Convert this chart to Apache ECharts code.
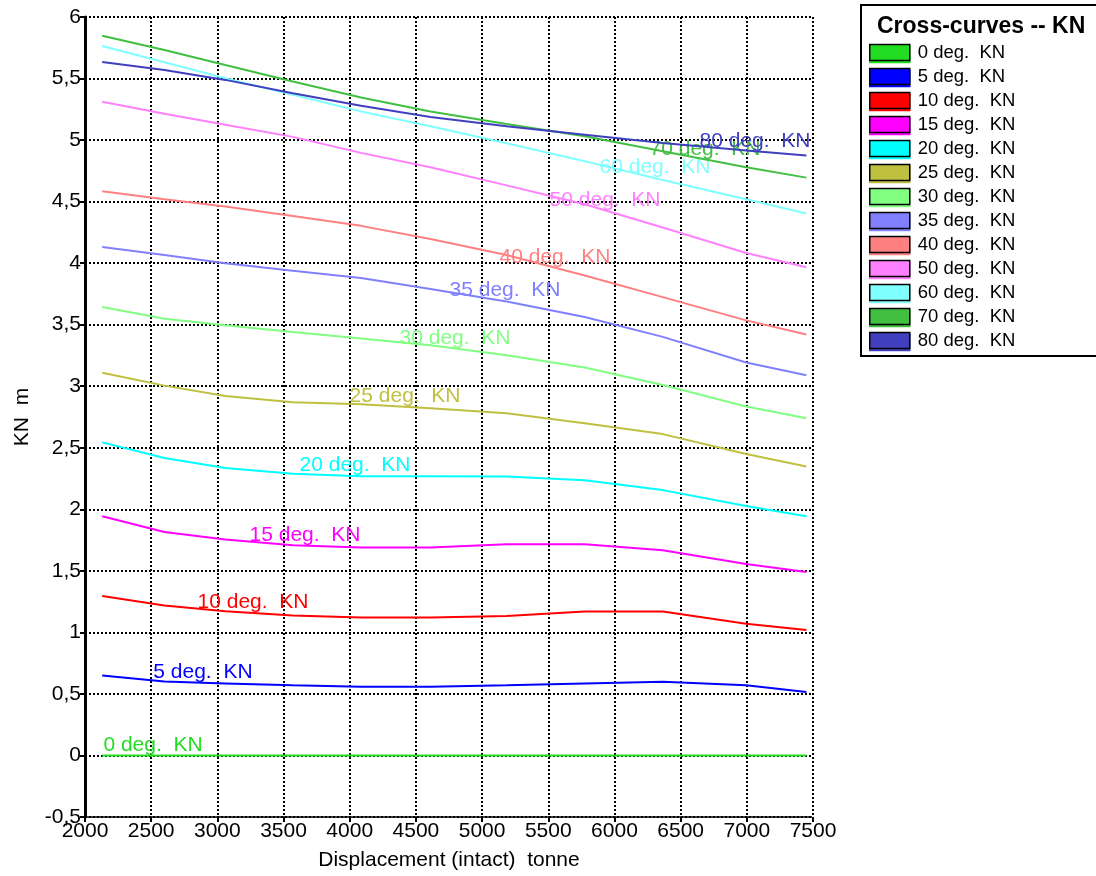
<!DOCTYPE html>
<html>
<head>
<meta charset="utf-8">
<script src="https://cdn.jsdelivr.net/npm/echarts@6/dist/echarts.min.js"></script>
<style>
html,body{margin:0;padding:0;background:#fff;}
#chart{width:1096px;height:876px;}
</style>
</head>
<body>
<div id="chart"></div>
<script>
// ---- data ----
const displacement = [2130, 2600, 3060, 3570, 4085, 4610, 5185, 5775, 6365, 6995, 7450];
const seriesNames = ['0 deg.  KN','5 deg.  KN','10 deg.  KN','15 deg.  KN','20 deg.  KN','25 deg.  KN','30 deg.  KN','35 deg.  KN','40 deg.  KN','50 deg.  KN','60 deg.  KN','70 deg.  KN','80 deg.  KN'];
const kn0  = [0, 0, 0, 0, 0, 0, 0, 0, 0, 0, 0];
const kn5  = [0.65, 0.60, 0.585, 0.57, 0.558, 0.558, 0.57, 0.585, 0.598, 0.57, 0.515];
const kn10 = [1.296, 1.218, 1.172, 1.137, 1.121, 1.121, 1.134, 1.17, 1.17, 1.07, 1.02];
const kn15 = [1.943, 1.816, 1.754, 1.708, 1.69, 1.69, 1.716, 1.716, 1.668, 1.555, 1.49];
const kn20 = [2.544, 2.417, 2.336, 2.288, 2.269, 2.269, 2.266, 2.237, 2.156, 2.027, 1.943];
const kn25 = [3.11, 3.005, 2.921, 2.87, 2.854, 2.821, 2.781, 2.70, 2.611, 2.449, 2.347];
const kn30 = [3.643, 3.549, 3.495, 3.441, 3.387, 3.333, 3.252, 3.153, 3.01, 2.835, 2.74];
const kn35 = [4.131, 4.066, 4.0, 3.939, 3.88, 3.79, 3.689, 3.563, 3.401, 3.193, 3.09];
const kn40 = [4.584, 4.519, 4.46, 4.384, 4.303, 4.196, 4.066, 3.899, 3.724, 3.535, 3.42];
const kn50 = [5.311, 5.214, 5.125, 5.026, 4.896, 4.78, 4.632, 4.479, 4.29, 4.083, 3.967];
const kn60 = [5.764, 5.632, 5.503, 5.368, 5.233, 5.112, 4.975, 4.828, 4.675, 4.52, 4.403];
const kn70 = [5.847, 5.732, 5.61, 5.476, 5.346, 5.233, 5.131, 5.031, 4.91, 4.78, 4.695];
const kn80 = [5.635, 5.57, 5.489, 5.381, 5.279, 5.188, 5.112, 5.044, 4.977, 4.915, 4.875];
// displacement at which each curve's label is centred
const labelX = [2514, 2891, 3269, 3662, 4040, 4418, 4795, 5173, 5551, 5929, 6306, 6684, 7062];
const xTicks = {min: 2000, max: 7500, interval: 500};
const yTicks = {min: -0.5, max: 6, interval: 0.5};

const allValues = [kn0, kn5, kn10, kn15, kn20, kn25, kn30, kn35, kn40, kn50, kn60, kn70, kn80];
const colors = ['#22DD22','#0000FF','#FF0000','#FF00FF','#00FFFF','#BFBF40','#80FF80','#8080FF','#FF8080','#FF80FF','#80FFFF','#40BF40','#4040BF'];

function valueAt(vals, x) {
  for (let i = 0; i < displacement.length - 1; i++) {
    if (x >= displacement[i] && x <= displacement[i+1]) {
      const t = (x - displacement[i]) / (displacement[i+1] - displacement[i]);
      return vals[i] + t * (vals[i+1] - vals[i]);
    }
  }
  return vals[0];
}

const FONT = 'Arial, "Liberation Sans", sans-serif';

const series = allValues.map((vals, i) => ({
  name: seriesNames[i],
  type: 'line',
  data: displacement.map((d, k) => [d, vals[k]]),
  showSymbol: false,
  symbol: 'none',
  color: colors[i],
  lineStyle: {width: 2, color: colors[i]},
  silent: true,
  z: 3 + i,
  markPoint: {
    symbol: 'circle',
    symbolSize: 0,
    silent: true,
    animation: false,
    data: [{coord: [labelX[i], valueAt(vals, labelX[i])], value: seriesNames[i]}],
    label: {
      show: true,
      formatter: seriesNames[i],
      position: [0, 0],
      align: 'center',
      verticalAlign: 'bottom',
      color: colors[i],
      fontFamily: FONT,
      fontSize: 21
    }
  }
}));

const chart = echarts.init(document.getElementById('chart'), null, {renderer: 'canvas'});
chart.setOption({
  animation: false,
  backgroundColor: '#fff',
  textStyle: {fontFamily: FONT},
  grid: {left: 85, right: 283, top: 17, bottom: 56, containLabel: false},
  xAxis: {
    type: 'value',
    min: xTicks.min, max: xTicks.max, interval: xTicks.interval,
    name: 'Displacement (intact)  tonne',
    nameLocation: 'middle',
    nameGap: 33,
    nameTextStyle: {color: '#000', fontSize: 21, fontFamily: FONT},
    axisLine: {show: true, onZero: false, lineStyle: {color: '#000', width: 2, type: [2, 2]}},
    axisTick: {show: true, length: 5, lineStyle: {color: '#000', width: 2}},
    axisLabel: {color: '#000', fontSize: 21, fontFamily: FONT, margin: 4,
      formatter: v => String(v)},
    splitLine: {show: true, lineStyle: {color: '#000', width: 2, type: [2, 2]}}
  },
  yAxis: {
    type: 'value',
    min: yTicks.min, max: yTicks.max, interval: yTicks.interval,
    name: 'KN  m',
    nameLocation: 'middle',
    nameRotate: 90,
    nameGap: 52,
    nameTextStyle: {color: '#000', fontSize: 21, fontFamily: FONT},
    axisLine: {show: true, onZero: false, lineStyle: {color: '#000', width: 3}},
    axisTick: {show: true, length: 5, lineStyle: {color: '#000', width: 2}},
    axisLabel: {color: '#000', fontSize: 21, fontFamily: FONT, margin: 4,
      formatter: v => String(v).replace('.', ',')},
    splitLine: {show: true, lineStyle: {color: '#000', width: 2, type: [2, 2]}}
  },
  legend: {
    orient: 'vertical',
    left: 869,
    top: 43,
    padding: 0,
    icon: 'rect',
    itemWidth: 40,
    itemHeight: 16,
    itemGap: 5,
    selectedMode: false,
    textStyle: {color: '#000', fontSize: 18.5, fontFamily: FONT, lineHeight: 16, padding: [0, 0, 0, 3]},
    data: seriesNames.map((n, i) => ({
      name: n,
      itemStyle: {color: colors[i], borderColor: '#000', borderWidth: 1.5, shadowColor: colors[i], shadowOffsetX: 0, shadowOffsetY: 2, shadowBlur: 0}
    }))
  },
  graphic: [
    {type: 'rect', shape: {x: 861, y: 5, width: 260, height: 351}, style: {fill: 'none', stroke: '#000', lineWidth: 2}, silent: true, z: 0},
    {type: 'text', x: 877, y: 27, style: {text: 'Cross-curves -- KN', fill: '#000', font: 'bold 23px ' + FONT, textVerticalAlign: 'middle', verticalAlign: 'middle'}, silent: true}
  ],
  series: series
});
</script>
</body>
</html>
